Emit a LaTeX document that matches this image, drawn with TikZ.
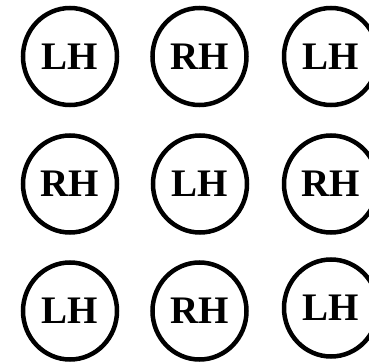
\documentclass[tikz,border=0pt]{standalone}
\usepackage{fontspec}
\setmainfont{Liberation Serif}
\usetikzlibrary{shapes.geometric}
\begin{document}
\begin{tikzpicture}[x=1pt,y=1pt,
  hand/.style={draw=black, line width=4.5pt, ellipse, minimum width=94pt, minimum height=97pt, inner sep=0pt,
    font=\fontsize{39}{39}\selectfont\bfseries}]
\useasboundingbox (0,0) rectangle (369,362);
\node[hand] (a1) at (70,305.5) {LH};
\node[hand] (a2) at (199.5,305.5) {RH};
\node[hand] (a3) at (331,305.5) {LH};
\node[hand] (b1) at (70,178) {RH};
\node[hand] (b2) at (200,178) {LH};
\node[hand] (b3) at (331,178) {RH};
\node[hand] (c1) at (70,51) {LH};
\node[hand] (c2) at (199.5,51) {RH};
\node[hand] (c3) at (331,54) {LH};
\end{tikzpicture}
\end{document}
